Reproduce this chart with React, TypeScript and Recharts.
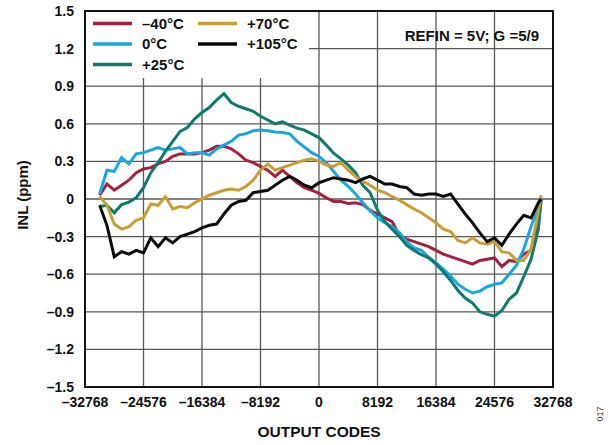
import React from 'react';
import { LineChart, Line, XAxis, YAxis, CartesianGrid, ReferenceArea, Legend } from 'recharts';

const FONT = '"Liberation Sans", Arial, Helvetica, sans-serif';

const codes = [
  -30720, -29696, -28672, -27648, -26624, -25600, -24576, -23552, -22528, -21504,
  -20480, -19456, -18432, -17408, -16384, -15360, -14336, -13312, -12288, -11264,
  -10240, -9216, -8192, -7168, -6144, -5120, -4096, -3072, -2048, -1024,
  0, 1024, 2048, 3072, 4096, 5120, 6144, 7168, 8192, 9216,
  10240, 11264, 12288, 13312, 14336, 15360, 16384, 17408, 18432, 19456,
  20480, 21504, 22528, 23552, 24576, 25600, 26624, 27648, 28672, 29696,
  30720, 31104,
];

const inlM40 = [
  0.03, 0.12, 0.07, 0.11, 0.15, 0.21, 0.24, 0.25, 0.28, 0.30,
  0.34, 0.36, 0.36, 0.36, 0.37, 0.39, 0.42, 0.42, 0.40, 0.36,
  0.31, 0.29, 0.26, 0.23, 0.18, 0.23, 0.18, 0.13, 0.09, 0.07,
  0.045, 0.01, -0.02, -0.02, -0.035, -0.03, -0.045, -0.09, -0.12, -0.15,
  -0.18, -0.29, -0.32, -0.34, -0.36, -0.38, -0.41, -0.44, -0.46, -0.48,
  -0.50, -0.52, -0.49, -0.48, -0.47, -0.54, -0.49, -0.50, -0.44, -0.41,
  -0.20, 0.0,
];

const inl0 = [
  0.04, 0.23, 0.22, 0.33, 0.28, 0.36, 0.37, 0.39, 0.41, 0.39,
  0.40, 0.41, 0.36, 0.37, 0.37, 0.35, 0.40, 0.43, 0.46, 0.51,
  0.52, 0.545, 0.55, 0.545, 0.535, 0.53, 0.52, 0.46, 0.415, 0.37,
  0.34, 0.29, 0.22, 0.15, 0.10, 0.04, -0.03, -0.095, -0.15, -0.19,
  -0.22, -0.27, -0.34, -0.39, -0.41, -0.465, -0.51, -0.56, -0.615, -0.68,
  -0.72, -0.75, -0.735, -0.70, -0.68, -0.67, -0.60, -0.53, -0.40, -0.22,
  -0.07, 0.0,
];

const inl25 = [
  -0.06, -0.05, -0.11, -0.045, -0.025, 0.01, 0.09, 0.21, 0.29, 0.38,
  0.46, 0.54, 0.57, 0.64, 0.69, 0.73, 0.79, 0.84, 0.77, 0.74,
  0.72, 0.70, 0.66, 0.63, 0.60, 0.615, 0.59, 0.565, 0.55, 0.52,
  0.49, 0.43, 0.365, 0.32, 0.27, 0.21, 0.11, 0.05, -0.09, -0.18,
  -0.24, -0.30, -0.37, -0.41, -0.445, -0.47, -0.52, -0.58, -0.65, -0.73,
  -0.79, -0.83, -0.90, -0.92, -0.935, -0.89, -0.80, -0.75, -0.62, -0.48,
  -0.24, 0.0,
];

const inl70 = [
  0.02, -0.05, -0.20, -0.24, -0.22, -0.17, -0.15, -0.04, -0.05, 0.02,
  -0.08, -0.06, -0.07, -0.03, 0.0, 0.03, 0.05, 0.07, 0.08, 0.07,
  0.10, 0.15, 0.23, 0.28, 0.23, 0.25, 0.27, 0.29, 0.31, 0.32,
  0.30, 0.27, 0.26, 0.29, 0.23, 0.18, 0.14, 0.11, 0.07, 0.05,
  0.02, -0.01, -0.045, -0.08, -0.11, -0.15, -0.19, -0.24, -0.26, -0.33,
  -0.35, -0.31, -0.35, -0.36, -0.34, -0.42, -0.43, -0.49, -0.49, -0.40,
  -0.10, 0.03,
];

const inl105 = [
  -0.05, -0.21, -0.46, -0.42, -0.44, -0.41, -0.43, -0.31, -0.38, -0.31,
  -0.35, -0.30, -0.28, -0.26, -0.23, -0.21, -0.20, -0.12, -0.05, -0.02,
  -0.01, 0.05, 0.06, 0.07, 0.11, 0.15, 0.18, 0.15, 0.11, 0.09,
  0.13, 0.15, 0.17, 0.16, 0.15, 0.13, 0.16, 0.18, 0.15, 0.12,
  0.12, 0.10, 0.09, 0.04, 0.03, 0.04, 0.04, 0.02, 0.04, -0.04,
  -0.12, -0.19, -0.27, -0.34, -0.31, -0.37, -0.28, -0.20, -0.13, -0.15,
  -0.03, 0.0,
];

const xTicks = [-32768, -24576, -16384, -8192, 0, 8192, 16384, 24576, 32768];
const yTicks = [-1.5, -1.2, -0.9, -0.6, -0.3, 0, 0.3, 0.6, 0.9, 1.2, 1.5];

const seriesKeys = ['m40', 't0', 't25', 't70', 't105'];
const seriesNames = ['\u201340\u00B0C', '0\u00B0C', '+25\u00B0C', '+70\u00B0C', '+105\u00B0C'];
const seriesColors = ['#A3203F', '#18A7DF', '#0F7A6E', '#C89F34', '#0A0A0A'];
const seriesValues = [inlM40, inl0, inl25, inl70, inl105];

const data = codes.map((c, i) => {
  const row: Record<string, number> = { code: c };
  seriesKeys.forEach((k, s) => {
    row[k] = seriesValues[s][i];
  });
  return row;
});

const fmtNum = (v: number, digits: number) => {
  if (Math.abs(v) < 1e-9) return '0';
  const s = Math.abs(v).toFixed(digits);
  return v < 0 ? '\u2013' + s : s;
};

const LegendBox = () => (
  <svg width={223} height={66} style={{ display: 'block' }}>
    <rect x={0} y={0} width={223} height={66} fill="#ffffff" />
    {seriesNames.map((name, i) => {
      const col = i < 3 ? 0 : 1;
      const row = i < 3 ? i : i - 3;
      const lx = col === 0 ? 7 : 112;
      const ly = 11.5 + row * 20.5;
      return (
        <g key={name}>
          <line x1={lx} x2={lx + 39} y1={ly} y2={ly} stroke={seriesColors[i]} strokeWidth={3.5} />
          <text
            x={lx + 49}
            y={ly + 5.4}
            fontFamily={FONT}
            fontWeight="bold"
            fontSize={15}
            fill="#111"
          >
            {name}
          </text>
        </g>
      );
    })}
  </svg>
);

const tickStyle = { fontFamily: FONT, fontWeight: 'bold' as const, fontSize: 14, fill: '#111' };

export default function App() {
  return (
    <div style={{ position: 'absolute', left: 0, top: 0, width: 614, height: 445, background: '#fff' }}>
      <LineChart
        width={614}
        height={445}
        data={data}
        margin={{ top: 11, right: 61, bottom: 28, left: 25 }}
      >
        <CartesianGrid stroke="#585858" strokeWidth={1.3} />
        <XAxis
          dataKey="code"
          type="number"
          domain={[-32768, 32768]}
          ticks={xTicks}
          interval={0}
          height={30}
          axisLine={false}
          tickLine={false}
          tickMargin={4}
          tick={tickStyle}
          tickFormatter={(v: number) => fmtNum(v, 0)}
          allowDataOverflow
        />
        <YAxis
          type="number"
          domain={[-1.5, 1.5]}
          ticks={yTicks}
          interval={0}
          width={60}
          axisLine={false}
          tickLine={false}
          tickMargin={5}
          tick={tickStyle}
          tickFormatter={(v: number) => fmtNum(v, 1)}
          allowDataOverflow
        />
        {seriesKeys.map((k, s) => (
          <Line
            key={k}
            dataKey={k}
            name={seriesNames[s]}
            stroke={seriesColors[s]}
            strokeWidth={3}
            dot={false}
            activeDot={false}
            type="linear"
            isAnimationActive={false}
          />
        ))}
        <ReferenceArea
          x1={-32768}
          x2={32768}
          y1={-1.5}
          y2={1.5}
          fill="none"
          fillOpacity={0}
          stroke="#111"
          strokeWidth={2}
          ifOverflow="visible"
        />
        <Legend
          layout="vertical"
          align="center"
          verticalAlign="middle"
          content={() => <LegendBox />}
          wrapperStyle={{ position: 'absolute', left: 86, top: 12, width: 223, height: 66, margin: 0, padding: 0 }}
        />
      </LineChart>
      <svg
        width={614}
        height={445}
        style={{ position: 'absolute', left: 0, top: 0, pointerEvents: 'none' }}
      >
        <text x={539} y={40.5} textAnchor="end" fontFamily={FONT} fontWeight="bold" fontSize={15} fill="#111">
          REFIN = 5V; G =5/9
        </text>
        <text x={319} y={436.5} textAnchor="middle" fontFamily={FONT} fontWeight="bold" fontSize={15.5} fill="#111">
          OUTPUT CODES
        </text>
        <text
          x={28}
          y={195}
          textAnchor="middle"
          transform="rotate(-90 28 195)"
          fontFamily={FONT}
          fontWeight="bold"
          fontSize={15}
          fill="#111"
        >
          INL (ppm)
        </text>
        <text
          x={603}
          y={414}
          textAnchor="middle"
          transform="rotate(-90 603 414)"
          fontFamily={FONT}
          fontSize={9}
          fill="#444"
        >
          017
        </text>
      </svg>
    </div>
  );
}
